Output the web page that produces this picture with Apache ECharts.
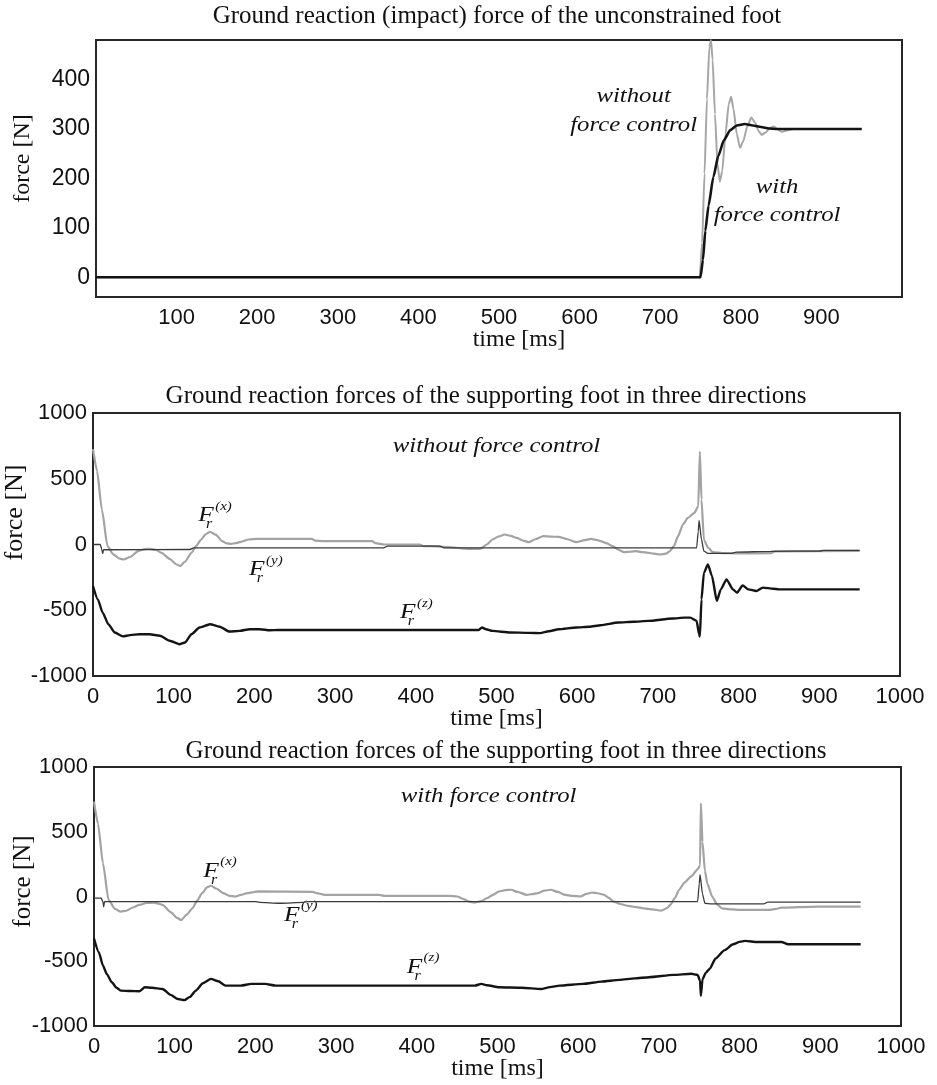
<!DOCTYPE html>
<html>
<head>
<meta charset="utf-8">
<script src="https://cdn.jsdelivr.net/npm/echarts@6/dist/echarts.min.js"></script>
<style>
  html, body { margin: 0; padding: 0; background: #fff; }
  #main { width: 937px; height: 1085px; }
</style>
</head>
<body>
<div id="main"></div>
<script>
// --- data (time in ms, force in N) ---
var titles = [
  'Ground reaction (impact) force of the unconstrained foot',
  'Ground reaction forces of the supporting foot in three directions',
  'Ground reaction forces of the supporting foot in three directions'
];

// top panel: impact force of the swinging foot
var impactWithout = [[0,0],[749,0],[752,70],[755,210],[758,360],[761,465],[763,480],[765,440],[768,330],[771,230],[774,193],[777,215],[781,290],[785,350],[788,365],[791,340],[795,290],[799,262],[803,275],[808,305],[813,323],[818,312],[822,296],[826,288],[831,293],[836,302],[841,305],[846,299],[851,294],[857,297],[865,300],[950,300]];
var impactWith = [[0,0],[750,0],[753,35],[756,94],[760,145],[766,203],[772,245],[779,277],[787,298],[795,307],[805,310],[815,307],[825,304],[835,301],[845,300],[950,300]];

// middle panel: supporting foot, without force control
var fxWithout = [[0,725],[5,560],[11,265],[18,-13],[25,-75],[33,-108],[38,-114],[46,-95],[56,-50],[64,-35],[71,-33],[78,-42],[85,-63],[95,-110],[103,-150],[108,-164],[114,-130],[122,-63],[128,-10],[134,38],[140,80],[145,96],[152,75],[160,25],[166,8],[171,5],[177,10],[182,18],[193,38],[204,43],[271,43],[275,30],[286,25],[346,25],[350,10],[361,0],[405,0],[410,-13],[420,-13],[440,-20],[465,-33],[480,-33],[488,0],[495,38],[503,62],[510,76],[518,65],[525,50],[533,30],[540,18],[548,40],[558,63],[568,60],[577,58],[588,40],[599,18],[608,32],[617,43],[624,35],[629,25],[637,8],[644,-13],[651,-40],[658,-58],[666,-55],[673,-50],[680,-58],[688,-63],[695,-70],[703,-76],[710,-70],[715,-50],[720,-10],[725,63],[731,152],[737,202],[745,240],[750,290],[752,707],[754,341],[757,38],[762,-23],[768,-58],[780,-65],[800,-68],[840,-66],[845,-52],[950,-48]];
var fyWithout = [[0,0],[9,0],[11,-40],[12,-70],[13,-40],[120,-38],[125,-25],[360,-25],[365,-13],[430,-13],[435,-25],[748,-25],[750,100],[751,184],[754,38],[757,-50],[762,-68],[790,-68],[797,-58],[840,-52],[900,-50],[905,-45],[950,-45]];
var fzWithout = [[0,-316],[6,-417],[12,-518],[19,-606],[27,-669],[37,-699],[46,-689],[58,-682],[70,-682],[83,-694],[95,-732],[107,-758],[114,-745],[122,-682],[132,-631],[145,-606],[157,-625],[169,-662],[182,-657],[194,-644],[207,-644],[219,-652],[230,-650],[478,-650],[482,-631],[487,-645],[495,-657],[517,-669],[540,-672],[554,-674],[565,-660],[577,-644],[599,-631],[615,-625],[629,-614],[651,-593],[670,-588],[688,-581],[718,-563],[733,-556],[740,-556],[748,-581],[751,-682],[752,-700],[754,-417],[757,-215],[762,-152],[767,-240],[773,-429],[778,-341],[785,-265],[793,-341],[798,-366],[805,-311],[812,-341],[822,-354],[830,-328],[843,-336],[850,-341],[950,-341]];

// bottom panel: supporting foot, with force control
var fxWith = [[0,732],[5,560],[11,260],[18,-26],[26,-95],[33,-117],[40,-110],[48,-85],[56,-65],[65,-50],[74,-47],[80,-55],[85,-65],[95,-120],[103,-165],[108,-182],[115,-140],[122,-91],[128,-30],[134,26],[140,70],[145,83],[152,60],[160,26],[168,5],[175,0],[182,12],[190,26],[204,39],[271,35],[276,26],[286,13],[353,13],[360,5],[440,5],[450,0],[458,-20],[465,-40],[472,-47],[480,-35],[487,-13],[495,15],[502,39],[510,50],[517,52],[525,35],[536,13],[543,18],[550,26],[558,45],[566,52],[575,35],[584,13],[593,5],[603,0],[610,20],[617,31],[624,25],[632,13],[638,-10],[644,-39],[652,-58],[662,-73],[672,-82],[681,-91],[692,-100],[703,-109],[710,-90],[714,-65],[720,-10],[725,52],[732,110],[740,156],[748,210],[751,240],[752,719],[754,420],[757,200],[760,100],[766,0],[772,-60],[778,-91],[790,-100],[800,-104],[837,-104],[845,-95],[852,-86],[897,-78],[950,-78]];
var fyWith = [[0,-13],[9,-13],[11,-40],[12,-80],[13,-40],[200,-39],[205,-45],[230,-52],[260,-45],[265,-39],[748,-39],[750,100],[751,169],[754,20],[757,-52],[765,-57],[830,-57],[835,-44],[950,-44]];
var fzWith = [[0,-325],[6,-430],[11,-532],[16,-600],[22,-662],[28,-705],[33,-727],[45,-730],[56,-732],[63,-701],[72,-705],[85,-714],[95,-760],[104,-792],[112,-800],[119,-775],[126,-727],[135,-670],[145,-636],[154,-655],[163,-688],[182,-688],[195,-675],[212,-675],[225,-688],[472,-688],[480,-675],[487,-685],[502,-701],[530,-705],[554,-714],[565,-700],[577,-688],[606,-675],[629,-657],[651,-644],[670,-632],[688,-623],[718,-605],[740,-597],[748,-605],[751,-650],[752,-766],[754,-640],[758,-590],[763,-558],[770,-481],[781,-416],[792,-369],[800,-350],[807,-343],[822,-351],[852,-351],[860,-369],[950,-369]];

// annotation anchors, in data coordinates of each panel
var notes = [
  {grid: 0, at: [667, 365], text: 'without'},
  {grid: 0, at: [667, 307], text: 'force control'},
  {grid: 0, at: [845, 182], text: 'with'},
  {grid: 0, at: [845, 125], text: 'force control'},
  {grid: 1, at: [500, 742], text: 'without force control'},
  {grid: 2, at: [489, 770], text: 'with force control'}
];
var forceTags = [
  {grid: 1, at: [140, 220], dir: 'x'},
  {grid: 1, at: [203, -189], dir: 'y'},
  {grid: 1, at: [390, -515], dir: 'z'},
  {grid: 2, at: [145, 197], dir: 'x'},
  {grid: 2, at: [245, -143], dir: 'y'},
  {grid: 2, at: [397, -544], dir: 'z'}
];

var serif = '"Liberation Serif", "DejaVu Serif", serif';
var sans = '"Liberation Sans", Arial, sans-serif';
var ink = '#111';

var chart = echarts.init(document.getElementById('main'));

function xAxisFor(i, hideEnds) {
  return {
    type: 'value', gridIndex: i, min: 0, max: 1000, interval: 100,
    axisLine: {show: false}, axisTick: {show: false}, splitLine: {show: false},
    axisLabel: {
      color: ink, fontFamily: sans, fontSize: 22, margin: 10,
      formatter: function (v) { return hideEnds && (v === 0 || v === 1000) ? '' : String(v); }
    },
    name: 'time [ms]', nameLocation: 'middle', nameGap: 31, nameMoveOverlap: false,
    nameTextStyle: {color: ink, fontFamily: serif, fontSize: 24, padding: i === 0 ? [0, 0, 0, 40] : 0}
  };
}

function yAxisFor(i, min, max, interval, shown, nameGap, namePad, nameSize, labelSize) {
  return {
    type: 'value', gridIndex: i, min: min, max: max, interval: interval,
    axisLine: {show: false}, axisTick: {show: false}, splitLine: {show: false},
    axisLabel: {
      color: ink, fontFamily: sans, fontSize: labelSize, margin: 6,
      formatter: function (v) { return shown.indexOf(v) >= 0 ? String(v) : ''; }
    },
    name: 'force [N]', nameLocation: 'middle', nameGap: nameGap, nameMoveOverlap: false,
    nameTextStyle: {color: ink, fontFamily: serif, fontSize: nameSize, padding: [0, 0, 0, namePad]}
  };
}

function line(name, data, i, color, width) {
  return {
    name: name, type: 'line', xAxisIndex: i, yAxisIndex: i, data: data,
    showSymbol: false, symbol: 'none', smooth: 0.2, smoothMonotone: 'x',
    lineStyle: {color: color, width: width}, z: 2, animation: false
  };
}

function gridAt(left, right, top, height) {
  return {
    left: left, right: right, top: top, height: height,
    containLabel: false, outerBoundsMode: 'none',
    show: true, borderColor: '#262626', borderWidth: 2, backgroundColor: 'transparent'
  };
}

var titleStyle = {fontFamily: serif, fontSize: 25, fontWeight: 'normal', color: ink};

var option = {
  backgroundColor: '#fff',
  animation: false,
  title: [
    {text: titles[0], left: 497, top: 4, textAlign: 'center', padding: 0, textStyle: titleStyle},
    {text: titles[1], left: 486, top: 384, textAlign: 'center', padding: 0, textStyle: titleStyle},
    {text: titles[2], left: 506, top: 739, textAlign: 'center', padding: 0, textStyle: titleStyle}
  ],
  grid: [
    gridAt(96, 35, 40, 257),
    gridAt(93, 37, 413, 263),
    gridAt(94, 36, 767, 259)
  ],
  xAxis: [xAxisFor(0, true), xAxisFor(1, false), xAxisFor(2, false)],
  yAxis: [
    yAxisFor(0, -40, 480, 20, [0, 100, 200, 300, 400], 61, 20, 24, 23),
    yAxisFor(1, -1000, 1000, 500, [-1000, -500, 0, 500, 1000], 65, 64, 26, 22),
    yAxisFor(2, -1000, 1000, 500, [-1000, -500, 0, 500, 1000], 58, 30, 25, 22)
  ],
  series: [
    line('without force control', impactWithout, 0, '#a6a6a6', 2),
    line('with force control', impactWith, 0, '#141414', 2.6),
    line('Fx', fxWithout, 1, '#a3a3a3', 2.2),
    line('Fy', fyWithout, 1, '#3a3a3a', 1.3),
    line('Fz', fzWithout, 1, '#141414', 2.4),
    line('Fx', fxWith, 2, '#a3a3a3', 2.2),
    line('Fy', fyWith, 2, '#3a3a3a', 1.3),
    line('Fz', fzWith, 2, '#141414', 2.4)
  ]
};
chart.setOption(option);

// annotations placed through the panels' own scales
var graphics = [];
notes.forEach(function (n) {
  var p = chart.convertToPixel({gridIndex: n.grid}, n.at);
  graphics.push({
    type: 'text', x: p[0], y: p[1], scaleX: 1.18, z: 10,
    style: {text: n.text, font: 'italic 21px ' + serif, fill: ink, align: 'center', verticalAlign: 'middle'}
  });
});
forceTags.forEach(function (f) {
  var p = chart.convertToPixel({gridIndex: f.grid}, f.at);
  graphics.push({
    type: 'group', x: p[0], y: p[1], scaleX: 1.15, z: 10,
    children: [
      {type: 'text', x: 0, y: 0, style: {text: 'F', font: 'italic 22px ' + serif, fill: ink, align: 'center', verticalAlign: 'middle'}},
      {type: 'text', x: 8, y: -9, style: {text: '(' + f.dir + ')', font: 'italic 13px ' + serif, fill: ink, align: 'left', verticalAlign: 'middle'}},
      {type: 'text', x: 0, y: 9, style: {text: 'r', font: 'italic 14px ' + serif, fill: ink, align: 'left', verticalAlign: 'middle'}}
    ]
  });
});
chart.setOption({graphic: graphics});
</script>
</body>
</html>
